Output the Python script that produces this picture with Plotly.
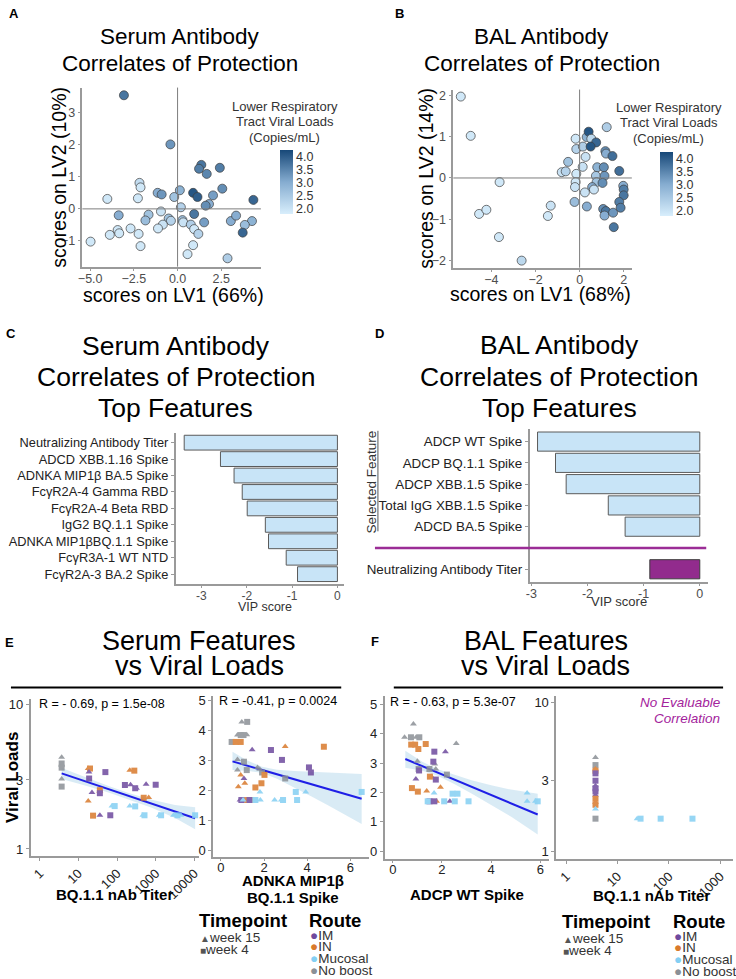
import plotly.graph_objects as go

W, H = 736, 979
FONT = "Liberation Sans, Arial, sans-serif"
AXIS_GREY = "#9a9a9a"
TICK_GREY = "#4d4d4d"

# ------------------------------------------------------------
# A: serum PLSR scores (LV1, LV2) coloured by viral load
# ------------------------------------------------------------
a_lv1 = [-3.07, -0.41, 1.36, 1.23, 1.67, 2.42, -2.18, -2.12, -4.02, -2.27,
         -1.14, -0.91, -0.19, 0.13, 0.89, 1.14, 2.03, 2.56, 1.80, 1.61,
         4.34, 0.19, -3.37, -1.66, -1.84, -0.95, -0.51, -0.38, 0.95, 0.28,
         0.32, 0.76, 1.52, 0.95, 1.19, 3.05, 3.35, 4.26, 3.85, 3.73,
         -0.84, -1.12, -2.69, -2.23, -3.43, -3.34, -3.88, -4.98, -2.12, 0.89,
         0.57, 2.86]
a_lv2 = [3.54, 2.01, 1.37, 1.25, 1.09, 1.28, 0.81, 0.67, 0.31, 0.33,
         0.50, 0.45, 0.37, 0.58, 0.50, 0.37, 0.42, 0.63, 0.15, 0.10,
         0.28, 0.05, -0.20, -0.18, -0.36, -0.08, -0.30, -0.37, -0.16, -0.35,
         -0.42, -0.49, -0.42, -0.63, -0.78, -0.38, -0.21, -0.38, -0.50, -0.74,
         -0.49, -0.61, -0.61, -0.78, -0.66, -0.76, -0.81, -1.02, -1.16, -1.13,
         -1.41, -1.54]
a_vl = [3.7, 3.3, 3.7, 3.6, 3.5, 3.6, 2.1, 1.9, 1.9, 1.9,
        3.0, 3.3, 2.6, 2.9, 4.1, 4.0, 3.2, 3.4, 3.0, 3.4,
        3.9, 2.3, 3.0, 2.6, 2.7, 2.0, 2.6, 2.3, 3.7, 2.6,
        2.0, 2.4, 3.2, 1.9, 2.3, 3.0, 3.0, 2.9, 2.7, 3.9,
        2.0, 1.9, 1.9, 1.9, 1.9, 1.9, 1.9, 1.9, 1.9, 1.9,
        1.9, 2.4]

# ------------------------------------------------------------
# B: BAL PLSR scores
# ------------------------------------------------------------
b_lv1 = [-5.39, -4.94, -3.63, -4.56, -4.23, -3.66, -2.63, -1.44, -1.31, -0.81,
         -0.63, -0.52, -0.18, -0.15, 0.15, 0.32, 0.41, 0.53, 0.75, 0.50,
         0.27, 0.14, 1.23, 1.17, 1.20, 1.49, 0.80, 1.10, 1.80, 0.74,
         1.13, -0.15, -0.18, -0.21, 0.77, 1.04, 0.57, 0.65, 0.24, 1.98,
         2.00, 2.00, -0.23, 0.33, 1.07, 1.19, 1.13, 1.52, 1.80, 1.86, 1.55]
b_lv2 = [1.97, 1.02, -0.10, -0.87, -0.77, -1.43, -2.00, -0.92, -0.67, 0.14,
         0.16, 0.39, 0.95, 0.70, 0.76, 0.99, 1.12, 0.95, 0.86, 0.76,
         0.51, 0.27, 1.23, 0.65, 0.59, 0.53, 0.26, 0.26, 0.17, 0.05,
         0.05, 0.10, -0.10, -0.22, -0.10, -0.12, -0.22, -0.28, -0.35, -0.19,
         -0.28, -0.42, -0.58, -0.69, -0.75, -0.80, -0.91, -0.84, -0.58, -0.72, -1.19]
b_vl = [1.9, 1.9, 1.9, 1.9, 1.9, 1.9, 2.2, 1.9, 2.0, 2.0,
        2.3, 2.6, 1.9, 2.3, 2.4, 2.9, 4.1, 2.2, 3.9, 4.1,
        2.0, 2.0, 2.4, 3.4, 3.0, 3.8, 2.9, 3.4, 3.8, 2.5,
        3.3, 1.9, 1.9, 2.0, 2.6, 3.4, 3.0, 2.0, 2.0, 3.0,
        3.6, 3.7, 2.7, 3.0, 3.4, 3.7, 3.0, 3.3, 3.6, 3.6, 3.7]

# ------------------------------------------------------------
# C / D: VIP scores
# ------------------------------------------------------------
c_features = ["Neutralizing Antibody Titer", "ADCD XBB.1.16 Spike", "ADNKA MIP1β BA.5 Spike",
              "FcγR2A-4 Gamma RBD", "FcγR2A-4 Beta RBD", "IgG2 BQ.1.1 Spike",
              "ADNKA MIP1βBQ.1.1 Spike", "FcγR3A-1 WT NTD", "FcγR2A-3 BA.2 Spike"]
c_vip = [-3.38, -2.58, -2.28, -2.10, -1.99, -1.59, -1.52, -1.13, -0.88]

d_features = ["ADCP WT Spike", "ADCP BQ.1.1 Spike", "ADCP XBB.1.5 Spike",
              "Total IgG XBB.1.5 Spike", "ADCD BA.5 Spike"]
d_vip = [-2.89, -2.57, -2.38, -1.63, -1.33]
d_nab_feature = "Neutralizing Antibody Titer"
d_nab_vip = -0.89

# ------------------------------------------------------------
# E / F: features vs viral loads
# ------------------------------------------------------------
e1_x = [3.7, 3.7, 3.7, 3.7, 3.7, 3.7,
        18, 20, 18, 24, 36, 36, 214, 280, 490, 660,
        18.8, 19, 22.5, 36, 50, 36, 67, 160, 224, 295, 318, 565, 1000,
        74, 87, 214, 295, 465, 513, 1240, 1380, 2890, 3650, 4470, 10470]
e1_y = [4.3, 3.9, 3.8, 3.65, 3.05, 2.7,
        3.6, 3.6, 2.15, 1.7, 2.55, 2.5, 3.5, 3.48, 2.26, 2.27,
        3.41, 3.07, 2.46, 2.43, 3.4, 1.71, 1.71, 2.77, 2.78, 2.63, 2.63, 2.8, 2.78,
        1.98, 1.98, 1.98, 1.97, 1.71, 1.71, 1.71, 1.71, 1.71, 1.71, 1.71, 1.71]
e1_route = ["No boost"] * 6 + ["IN"] * 10 + ["IM"] * 13 + ["Mucosal"] * 12
e1_week = [15, 4, 15, 4, 15, 4,
           15, 4, 15, 4, 4, 15, 15, 4, 4, 15,
           15, 4, 15, 4, 4, 15, 4, 4, 15, 4, 15, 15, 4,
           15, 4, 15, 4, 15, 4, 15, 4, 15, 4, 15, 4]
e1_fit_x = [3.7, 15.8, 63, 200, 794, 3162, 10470]
e1_fit_y = [3.33, 2.92, 2.58, 2.32, 2.06, 1.82, 1.63]
e1_fit_hi = [3.63, 3.11, 2.71, 2.44, 2.19, 2.01, 1.94]
e1_fit_lo = [3.05, 2.74, 2.45, 2.21, 1.93, 1.64, 1.37]

e2_x = [0.97, 1.22, 0.77, 0.92, 1.05, 1.2, 0.5, 0.77, 0.77, 1.07, 1.2, 1.7, 1.91, 2.98, 1.8,
        0.69, 0.8, 0.92, 2.98, 4.77, 2.02, 0.92, 1.11, 0.81, 1.6, 1.88, 1.22, 1.41,
        1.45, 2.32, 2.83, 4.08, 4.17, 1.07, 0.89, 0.95, 1.33,
        1.81, 3.47, 3.93, 6.52, 1.03, 1.6, 1.83, 2.49, 2.8, 2.88, 3.53]
e2_y = [4.3, 4.3, 3.86, 3.86, 3.86, 3.87, 3.63, 3.04, 2.69, 2.97, 2.69, 2.78, 2.61, 2.41, 2.72,
        3.63, 3.63, 3.63, 3.48, 3.47, 2.53, 2.53, 2.25, 2.13, 2.11, 2.25, 1.69, 1.69,
        3.37, 3.36, 3.03, 2.78, 2.61, 2.41, 1.69, 1.69, 1.69,
        1.96, 1.96, 1.96, 1.96, 1.69, 1.69, 1.69, 1.69, 1.69, 1.69, 1.69]
e2_route = ["No boost"] * 15 + ["IN"] * 13 + ["IM"] * 9 + ["Mucosal"] * 11
e2_week = [15, 4, 15, 4, 4, 15, 4, 15, 15, 4, 4, 15, 4, 4, 15,
           4, 15, 4, 15, 4, 4, 15, 15, 15, 4, 4, 4, 4,
           15, 4, 4, 4, 4, 15, 15, 4, 4,
           15, 4, 15, 4, 15, 4, 15, 15, 15, 4, 4]
e2_fit_x = [0.54, 1.2, 1.9, 2.6, 3.4, 4.2, 5.0, 5.8, 6.52]
e2_fit_y = [2.98, 2.84, 2.70, 2.55, 2.39, 2.22, 2.05, 1.88, 1.73]
e2_fit_hi = [3.30, 3.02, 2.80, 2.70, 2.66, 2.63, 2.61, 2.58, 2.56]
e2_fit_lo = [2.69, 2.67, 2.60, 2.40, 2.11, 1.81, 1.50, 1.19, 0.89]

f1_x = [0.84, 0.48, 0.74, 0.95, 1.08, 2.58, 1.0, 1.05, 1.71, 1.49, 1.75, 2.2,
        0.75, 0.91, 1.34, 1.04, 1.51, 1.58, 1.94, 0.78, 1.02, 1.38, 1.78,
        1.69, 2.14, 1.07, 1.65, 1.75, 0.94, 1.49, 1.69, 2.32,
        1.68, 2.43, 2.63, 5.46, 1.42, 2.09, 2.52, 3.08, 5.46, 5.8, 5.89]
f1_y = [4.33, 3.88, 3.88, 3.88, 3.88, 3.67, 3.06, 2.80, 2.97, 2.80, 2.80, 2.61,
        3.63, 3.63, 3.65, 3.48, 2.54, 2.54, 2.18, 2.15, 2.03, 2.05, 1.70,
        3.39, 3.39, 2.75, 3.05, 2.44, 2.46, 1.70, 1.70, 1.70,
        1.98, 1.96, 1.96, 1.98, 1.70, 1.70, 1.70, 1.70, 1.70, 1.70, 1.70]
f1_route = ["No boost"] * 12 + ["IN"] * 11 + ["IM"] * 9 + ["Mucosal"] * 11
f1_week = [15, 15, 4, 15, 4, 15, 15, 4, 15, 4, 15, 4,
           4, 4, 4, 4, 4, 15, 15, 4, 4, 15, 15,
           4, 15, 4, 4, 4, 15, 4, 4, 15,
           15, 4, 4, 15, 4, 4, 4, 4, 15, 15, 4]
f1_fit_x = [0.51, 1.2, 1.8, 2.5, 3.2, 4.0, 4.8, 5.89]
f1_fit_y = [3.14, 2.90, 2.69, 2.44, 2.20, 1.92, 1.64, 1.25]
f1_fit_hi = [3.42, 3.05, 2.80, 2.60, 2.42, 2.25, 2.10, 1.96]
f1_fit_lo = [2.84, 2.74, 2.58, 2.29, 1.97, 1.58, 1.18, 0.57]

f2_x = [3.7] * 15 + [24, 28, 69, 288]
f2_y = [4.3, 3.82, 3.6, 3.5, 3.36, 3.0, 2.78, 2.67, 2.54, 2.41, 2.27, 2.15, 2.07, 1.94, 1.67,
        1.67, 1.67, 1.67, 1.67]
f2_route = ["No boost", "No boost", "IN", "IN", "IM", "IM", "IM", "IM", "IM", "IM",
            "IN", "IN", "IN", "Mucosal", "No boost", "Mucosal", "Mucosal", "Mucosal", "Mucosal"]
f2_week = [15, 4, 15, 4, 4, 4, 15, 4, 4, 15, 4, 15, 4, 15, 4, 15, 4, 4, 4]

route_colors = {"IM": "#6e4a9e", "IN": "#d97a2c", "Mucosal": "#84cff3", "No boost": "#8b9096"}
week_symbols = {15: "triangle-up", 4: "square"}
route_order = ["IM", "IN", "Mucosal", "No boost"]

# blue scale for the PLSR score plots
score_scale = [[0.0, "#d8eefc"], [0.5, "#85acd0"], [1.0, "#174878"]]


def px(x):
    return x / W


def py(y):
    return 1 - y / H


def axis(dom, rng, anchor, size=12.5, color=TICK_GREY, **kw):
    d = dict(domain=dom, range=rng, anchor=anchor, showline=True, linecolor=AXIS_GREY,
             linewidth=1.5, ticks="outside", ticklen=3, tickcolor=AXIS_GREY, showgrid=False,
             zeroline=False, tickfont=dict(family=FONT, size=size, color=color))
    d.update(kw)
    return d


fig = go.Figure()

# --- A / B score plots ---
fig.add_trace(go.Scatter(x=a_lv1, y=a_lv2, mode="markers", xaxis="x", yaxis="y",
                         marker=dict(size=9, color=a_vl, coloraxis="coloraxis",
                                     line=dict(color="#3c3c3c", width=0.7))))
fig.add_trace(go.Scatter(x=b_lv1, y=b_lv2, mode="markers", xaxis="x2", yaxis="y2",
                         marker=dict(size=9, color=b_vl, coloraxis="coloraxis2",
                                     line=dict(color="#3c3c3c", width=0.7))))

# --- C / D VIP bars ---
fig.add_trace(go.Bar(x=c_vip, y=c_features, orientation="h", width=0.9, xaxis="x3", yaxis="y3",
                     marker=dict(color="#c8e4f7", line=dict(color="#5a5a5a", width=1))))
d_pos = list(range(len(d_features)))
nab_pos = len(d_features) + 1
fig.add_trace(go.Bar(x=d_vip, y=d_pos, orientation="h", width=0.9, xaxis="x4", yaxis="y4",
                     marker=dict(color="#c8e4f7", line=dict(color="#5a5a5a", width=1))))
fig.add_trace(go.Bar(x=[d_nab_vip], y=[nab_pos], orientation="h", width=0.9, xaxis="x4", yaxis="y4",
                     marker=dict(color="#922b8d", line=dict(color="#3c3c3c", width=1))))


# --- E / F scatter panels ---
def add_fit(fx, fy, hi, lo, xa, ya):
    fig.add_trace(go.Scatter(x=fx + fx[::-1], y=hi + lo[::-1], fill="toself", mode="lines",
                             line=dict(width=0), fillcolor="rgba(170,210,232,0.45)",
                             hoverinfo="skip", xaxis=xa, yaxis=ya))
    fig.add_trace(go.Scatter(x=fx, y=fy, mode="lines", line=dict(color="#1f1fe6", width=2),
                             xaxis=xa, yaxis=ya))


def add_points(xs, ys, routes, weeks, xa, ya):
    fig.add_trace(go.Scatter(x=xs, y=ys, mode="markers", xaxis=xa, yaxis=ya, opacity=0.85,
                             marker=dict(size=6, color=[route_colors[r] for r in routes],
                                         symbol=[week_symbols[w] for w in weeks])))


add_fit(e1_fit_x, e1_fit_y, e1_fit_hi, e1_fit_lo, "x5", "y5")
add_points(e1_x, e1_y, e1_route, e1_week, "x5", "y5")
add_fit(e2_fit_x, e2_fit_y, e2_fit_hi, e2_fit_lo, "x6", "y6")
add_points(e2_x, e2_y, e2_route, e2_week, "x6", "y6")
add_fit(f1_fit_x, f1_fit_y, f1_fit_hi, f1_fit_lo, "x7", "y7")
add_points(f1_x, f1_y, f1_route, f1_week, "x7", "y7")
add_points(f2_x, f2_y, f2_route, f2_week, "x8", "y8")

# ------------------------------------------------------------
# annotations
# ------------------------------------------------------------
ann = []


def txt(s, x, y, size, color="black", angle=0, xanchor="center"):
    ann.append(dict(text=s, x=px(x), y=py(y), xref="paper", yref="paper", showarrow=False,
                    xanchor=xanchor, yanchor="middle", textangle=angle,
                    font=dict(family=FONT, size=size, color=color)))


for lab, x, y in [("A", 10, 11), ("B", 399, 11), ("C", 7, 332), ("D", 379, 332),
                  ("E", 6, 643), ("F", 374, 642)]:
    txt(f"<b>{lab}</b>", x, y, 13)

# titles
txt("Serum Antibody", 177, 34, 22.5)
txt("Correlates of Protection", 177, 61, 22.5)
txt("BAL Antibody", 542, 34, 22.5)
txt("Correlates of Protection", 542, 61, 22.5)
for i, line in enumerate(["Serum Antibody", "Correlates of Protection", "Top Features"]):
    txt(line, 173, 345 + 31 * i, 26.5)
for i, line in enumerate(["BAL Antibody", "Correlates of Protection", "Top Features"]):
    txt(line, 560, 344 + 31.5 * i, 26.5)
txt("Serum Features", 197, 641, 27)
txt("vs Viral Loads", 197, 666, 27)
txt("BAL Features", 546, 641, 27)
txt("vs Viral Loads", 546, 666, 27)

# axis titles A / B
txt("scores on LV1 (66%)", 171, 293, 19.5)
txt("scores on LV2 (10%)", 56, 175, 19.5, angle=-90)
txt("scores on LV1 (68%)", 541, 292, 19.5)
txt("scores on LV2 (14%)", 426, 176, 19.5, angle=-90)
for i, line in enumerate(["Lower Respiratory", "Tract Viral Loads", "(Copies/mL)"]):
    txt(line, 283, 104 + 15.5 * i, 13, color="#333333")
    txt(line, 670, 105 + 15.5 * i, 13, color="#333333")

# C / D axis titles
txt("VIP score", 263, 607, 12.5, color="#333333")
txt("VIP score", 620, 602, 13, color="#333333")
txt("Selected Feature", 371, 481, 13.5, color="#333333", angle=-90)

# E / F labels
txt("<b>Viral Loads</b>", 8, 778, 17, angle=-90)
txt("R = - 0.69, p = 1.5e-08", 33, 705, 12.5, xanchor="left")
txt("R = -0.41, p = 0.0024", 215, 702, 12.5, xanchor="left")
txt("R = - 0.63, p = 5.3e-07", 387, 703, 12.5, xanchor="left")
txt("<i>No Evaluable</i>", 724, 703, 13.5, color="#a3239c", xanchor="right")
txt("<i>Correlation</i>", 724, 719, 13.5, color="#a3239c", xanchor="right")
txt("<b>BQ.1.1 nAb Titer</b>", 111, 896, 15)
txt("<b>ADNKA MIP1β</b>", 291, 882, 15)
txt("<b>BQ.1.1 Spike</b>", 291, 899, 15)
txt("<b>ADCP WT Spike</b>", 467, 896, 15)
txt("<b>BQ.1.1 nAb Titer</b>", 653, 897, 15)

# legends (two copies)
for lx, rx, y0 in [(196, 306, 922), (562, 673, 923)]:
    txt("<b>Timepoint</b>", lx - 1, y0, 18.5, xanchor="left")
    txt("<b>Route</b>", rx - 1, y0, 18.5, xanchor="left")
    for i, (sym, name) in enumerate([("▲", "week 15"), ("■", "week 4")]):
        txt(f"<span style='color:#555555;font-size:10px'>{sym}</span>{name}", lx, y0 + 17 + 12 * i,
            13.5, color="#333333", xanchor="left")
    for i, r in enumerate(route_order):
        txt(f"<span style='color:{route_colors[r]}'>●</span>{r}", rx, y0 + 15 + 11.7 * i,
            13.5, color="#333333", xanchor="left")

# ------------------------------------------------------------
# shapes
# ------------------------------------------------------------
shapes = []
for xa, ya in [("x", "y"), ("x2", "y2")]:
    shapes.append(dict(type="line", xref=xa, yref=f"{ya} domain", x0=0, x1=0, y0=0, y1=1,
                       line=dict(color="#7d7d7d", width=1)))
    shapes.append(dict(type="line", xref=f"{xa} domain", yref=ya, x0=0, x1=1, y0=0, y1=0,
                       line=dict(color="#7d7d7d", width=1)))
shapes.append(dict(type="line", xref="paper", yref="y4", x0=px(374), x1=px(708),
                   y0=len(d_features), y1=len(d_features), line=dict(color="#9b2d96", width=2.5)))
shapes.append(dict(type="line", xref="paper", yref="paper", x0=px(377), x1=px(377),
                   y0=py(430), y1=py(531), line=dict(color="#555555", width=1)))
shapes.append(dict(type="line", xref="paper", yref="paper", x0=px(7), x1=px(340),
                   y0=py(688), y1=py(688), line=dict(color="black", width=2)))
shapes.append(dict(type="line", xref="paper", yref="paper", x0=px(393), x1=px(725),
                   y0=py(688), y1=py(688), line=dict(color="black", width=2)))

cbar = dict(xanchor="left", yanchor="middle", len=64, lenmode="pixels", thickness=13,
            thicknessmode="pixels", xpad=0, ypad=0, outlinewidth=0, ticks="",
            tickvals=[2, 2.5, 3, 3.5, 4], tickformat=".1f",
            tickfont=dict(family=FONT, size=12.5, color="#333333"))

log_ticks = [1, 10, 100, 1000, 10000]
EF = "#222222"

fig.update_layout(
    width=W, height=H, margin=dict(l=0, r=0, t=0, b=0),
    paper_bgcolor="white", plot_bgcolor="rgba(0,0,0,0)", showlegend=False,
    font=dict(family=FONT, color="black"), bargap=0.1,
    annotations=ann, shapes=shapes,
    coloraxis=dict(cmin=1.78, cmax=4.27, colorscale=score_scale,
                   colorbar=dict(x=px(278), y=py(180), **cbar)),
    coloraxis2=dict(cmin=1.78, cmax=4.27, colorscale=score_scale,
                    colorbar=dict(x=px(661), y=py(182), **cbar)),
    # A
    xaxis=axis([px(79), px(259)], [-5.45, 4.77], "y", tickvals=[-5, -2.5, 0, 2.5], tickformat=".1f",
               ticklabelstandoff=-3),
    yaxis=axis([py(265), py(85)], [-1.8, 3.78], "x", tickvals=[-1, 0, 1, 2, 3]),
    # B
    xaxis2=axis([px(453), px(633)], [-5.73, 2.37], "y2", tickvals=[-4, -2, 0, 2], ticklabelstandoff=-3),
    yaxis2=axis([py(266), py(87)], [-2.17, 2.14], "x2", tickvals=[-2, -1, 0, 1, 2]),
    # C
    xaxis3=axis([px(173), px(343)], [-3.57, 0.15], "y3", size=12, tickvals=[-3, -2, -1, 0],
                ticktext=["-3", "-2", "-1", "0"], ticklen=2, ticklabelstandoff=-2),
    yaxis3=axis([py(584), py(432)], [8.6, -0.6], "x3", size=12.8, color="#222222", type="category",
                categoryorder="array", categoryarray=c_features),
    # D
    xaxis4=axis([px(530), px(710)], [-3.03, 0.15], "y4", size=12.5, tickvals=[-3, -2, -1, 0],
                ticktext=["-3", "-2", "-1", "0"], ticklen=2, ticklabelstandoff=-3),
    yaxis4=axis([py(582), py(428)], [6.6, -0.6], "x4", size=13.4, color="#222222",
                tickvals=d_pos + [nab_pos], ticktext=d_features + [d_nab_feature]),
    # E1
    xaxis5=axis([px(27), px(197)], [-0.23, 4.13], "y5", size=13, color=EF, type="log",
                tickvals=log_ticks, ticktext=[str(v) for v in log_ticks], tickangle=-45, linewidth=2),
    yaxis5=axis([py(857), py(700)], [-0.046, 1.034], "x5", size=13, color=EF, type="log",
                tickvals=[1, 3, 10], ticktext=["1", "3", "10"], linewidth=2),
    # E2
    xaxis6=axis([px(211), px(368)], [-0.35, 6.86], "y6", size=13, color=EF, tickvals=[0, 2, 4, 6],
                linewidth=2, ticklen=2, ticklabelstandoff=-4),
    yaxis6=axis([py(858), py(697)], [-0.2, 5.15], "x6", size=13, color=EF,
                tickvals=[0, 1, 2, 3, 4, 5], linewidth=2),
    # F1
    xaxis7=axis([px(384), px(549)], [-0.32, 6.33], "y7", size=13, color=EF, tickvals=[0, 2, 4, 6],
                linewidth=2, ticklen=2, ticklabelstandoff=-4),
    yaxis7=axis([py(860), py(697)], [-0.25, 5.27], "x7", size=13, color=EF,
                tickvals=[0, 1, 2, 3, 4, 5], linewidth=2),
    # F2
    xaxis8=axis([px(557), px(735)], [-0.193, 3.25], "y8", size=13, color=EF, type="log",
                tickvals=log_ticks[:4], ticktext=[str(v) for v in log_ticks[:4]], tickangle=-45,
                linewidth=2),
    yaxis8=axis([py(860), py(697)], [-0.045, 1.042], "x8", size=13, color=EF, type="log",
                tickvals=[1, 3, 10], ticktext=["1", "3", "10"], linewidth=2),
)

# the page body has a default 8px margin; drop it so the figure fills the window exactly
fig.write_html("out.html", config={"displayModeBar": False},
               post_script="document.body.style.margin='0';")
